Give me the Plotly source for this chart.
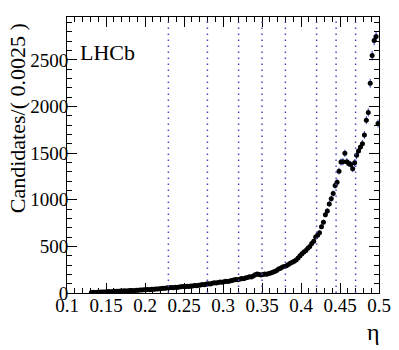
import numpy as np
import plotly.graph_objects as go

# candidates per 0.0025 bin, first bin centre at eta = 0.13125
counts = [
    5, 7, 6, 8,
    9, 11, 10, 12,
    13, 15, 14, 17,
    18, 20, 19, 22,
    22, 24, 21, 25,
    26, 28, 25, 30,
    30, 33, 32, 35,
    36, 38, 35, 40,
    40, 44, 42, 46,
    48, 52, 50, 56,
    55, 58, 56, 62,
    60, 64, 66, 70,
    68, 72, 70, 76,
    75, 80, 78, 84,
    85, 90, 88, 96,
    100, 96, 105, 110,
    108, 112, 118, 115,
    120, 126, 122, 130,
    135, 140, 145, 142,
    148, 155, 152, 160,
    165, 175, 172, 182,
    195, 205, 198, 192,
    198, 205, 200, 210,
    215, 222, 230, 240,
    258, 265, 278, 285,
    292, 305, 318, 330,
    340, 355, 375, 400,
    420, 440, 455, 480,
    500, 530, 555, 600,
    620, 645, 710, 760,
    840, 880, 955, 1010,
    1067, 1153, 1189, 1307,
    1404, 1408, 1498, 1408,
    1390, 1379, 1333, 1397,
    1476, 1523, 1566, 1600,
    1695, 1853, 1936, 2249,
    2546, 2708, 2751, 1817,
]
first_bin = 0.13125
bin_width = 0.0025
boundaries = [0.23, 0.28, 0.32, 0.35, 0.38, 0.42, 0.445, 0.47]

counts = np.array(counts, dtype=float)
eta = first_bin + bin_width * np.arange(len(counts))
errors = np.sqrt(counts)

FONT = "Liberation Serif"

fig = go.Figure()
fig.add_trace(go.Scatter(
    x=eta, y=counts, mode="markers",
    marker=dict(color="black", size=5, symbol="circle"),
    error_y=dict(type="data", array=errors, color="#2b3bd6",
                 thickness=1, width=0),
    showlegend=False,
))

for b in boundaries:
    fig.add_shape(type="line", x0=b, x1=b, y0=0, y1=1,
                  xref="x", yref="paper",
                  line=dict(color="#4a4ab8", width=1.5, dash="1.5px,4.5px"))

axis_common = dict(
    showline=True, linecolor="black", linewidth=1, mirror="allticks",
    ticks="inside", ticklen=10, tickcolor="black", tickwidth=1,
    showgrid=False, zeroline=False,
    tickfont=dict(family=FONT, size=19, color="black"),
)

fig.update_xaxes(range=[0.1, 0.5], tick0=0.1, dtick=0.05,
                 ticklabelstandoff=-5,
                 minor=dict(dtick=0.01, ticks="inside", ticklen=5,
                            tickcolor="black"),
                 **axis_common)
fig.update_yaxes(range=[0, 2960], tick0=0, dtick=500,
                 ticklabelstandoff=-6,
                 minor=dict(dtick=100, ticks="inside", ticklen=5,
                            tickcolor="black"),
                 **axis_common)

fig.add_annotation(text="Candidates/( 0.0025 )", textangle=-90,
                   xref="paper", yref="paper", x=-0.16, y=0.985,
                   xanchor="center", yanchor="top", showarrow=False,
                   font=dict(family=FONT, size=22, color="black"))
fig.add_annotation(text="η", xref="paper", yref="paper",
                   x=0.981, y=-0.14, xanchor="center", yanchor="middle",
                   showarrow=False,
                   font=dict(family=FONT, size=24, color="black"))
fig.add_annotation(text="LHCb", xref="paper", yref="paper",
                   x=0.035, y=0.925, xanchor="left", yanchor="top",
                   showarrow=False,
                   font=dict(family=FONT, size=22, color="black"))

# page body has an 8px margin, so shrink the figure to keep the frame in place
fig.update_layout(
    width=391, height=342,
    font=dict(family=FONT, color="black"),
    margin=dict(l=59, r=20, t=9, b=57),
    plot_bgcolor="white", paper_bgcolor="white",
)

fig.write_html("out.html")
